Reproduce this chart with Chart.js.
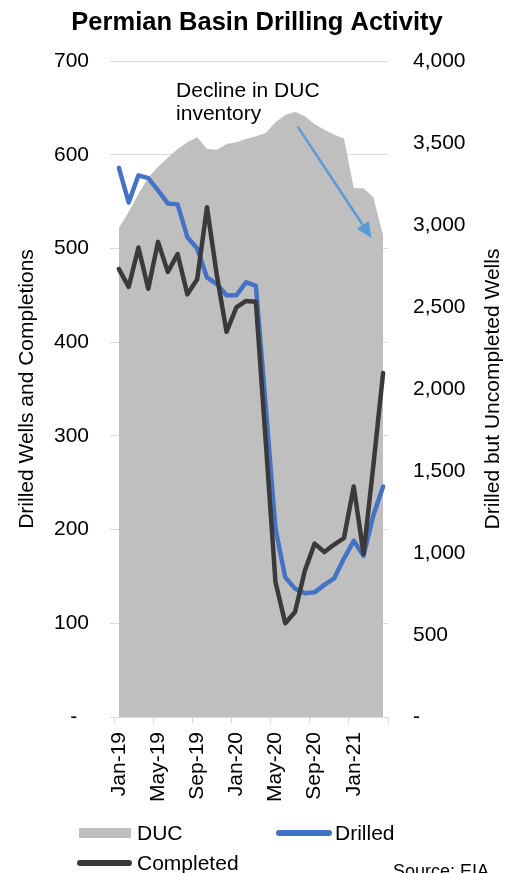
<!DOCTYPE html>
<html>
<head>
<meta charset="utf-8">
<script src="https://cdn.jsdelivr.net/npm/chart.js@4/dist/chart.umd.min.js"></script>
<style>
  html, body { margin: 0; padding: 0; background: #fff; overflow: hidden; }
  #wrap { position: relative; width: 514px; height: 873px; font-family: "Liberation Sans", Arial, sans-serif; color: #000; }
  canvas { position: absolute; left: 0; top: 0; }
  .lg { position: absolute; font-size: 21px; line-height: 21px; white-space: nowrap; }
  .sw { position: absolute; }
  .ln { position: absolute; height: 6px; border-radius: 3px; }
</style>
</head>
<body>
<div id="wrap">
  <canvas id="c" width="514" height="873"></canvas>
  <div class="sw" style="left:79px; top:828px; width:52px; height:10px; background:#BFBFBF;"></div>
  <div class="lg" style="left:137px; top:822px;">DUC</div>
  <div class="ln" style="left:276px; top:830px; width:56px; background:#4472C4;"></div>
  <div class="lg" style="left:335px; top:822px;">Drilled</div>
  <div class="ln" style="left:77px; top:860px; width:55px; background:#3A3A3A;"></div>
  <div class="lg" style="left:137px; top:852px;">Completed</div>
  <div class="lg" style="left:393px; top:862px; font-size:18px; line-height:18px;">Source: EIA</div>
</div>
<script>
// Monthly Permian figures, Jan-2019 .. Apr-2021
const months = [
  'Jan-19', 'Feb-19', 'Mar-19', 'Apr-19', 'May-19', 'Jun-19', 'Jul-19', 'Aug-19',
  'Sep-19', 'Oct-19', 'Nov-19', 'Dec-19', 'Jan-20', 'Feb-20', 'Mar-20', 'Apr-20',
  'May-20', 'Jun-20', 'Jul-20', 'Aug-20', 'Sep-20', 'Oct-20', 'Nov-20', 'Dec-20',
  'Jan-21', 'Feb-21', 'Mar-21', 'Apr-21'
];

// Drilled but uncompleted wells (right axis)
const ducWells = [
  2982, 3080, 3190, 3290, 3355, 3410, 3463, 3504,
  3535, 3463, 3459, 3494, 3504, 3524, 3541, 3561,
  3626, 3671, 3691, 3663, 3616, 3581, 3551, 3528,
  3224, 3224, 3169, 2935
];

// Wells drilled per month (left axis)
const drilledWells = [
  586, 549, 578, 575, 562, 548, 547, 512,
  500, 469, 462, 450, 450, 464, 460, 332,
  201, 149, 137, 132, 133, 141, 148, 169,
  188, 172, 215, 246
];

// Wells completed per month (left axis)
const completedWells = [
  478, 459, 501, 457, 507, 475, 494, 451,
  467, 544, 472, 411, 437, 444, 443, 295,
  144, 100, 112, 156, 185, 176, 184, 191,
  246, 174, 268, 367
];

const leftTicks = { min: 0, max: 700, step: 100 };
const rightTicks = { min: 0, max: 4000, step: 500 };

const FONT = '"Liberation Sans", Arial, sans-serif';
const GRID = '#D9D9D9';

// Callout: text anchored at (month index, DUC value), arrow between two such points
const callout = {
  lines: ['Decline in DUC', 'inventory'],
  textAt: [5.84, 3782],
  arrowFrom: [18.27, 3600],
  arrowTo: [25.83, 2919]
};

const overlay = {
  id: 'overlay',
  afterDatasetsDraw(chart) {
    const { ctx, chartArea } = chart;
    const xs = chart.scales.x, yr = chart.scales.yR;
    ctx.save();
    // callout text
    ctx.fillStyle = '#000';
    ctx.font = '21px ' + FONT;
    ctx.textAlign = 'left';
    ctx.textBaseline = 'alphabetic';
    const tx = xs.getPixelForValue(callout.textAt[0]);
    const ty = yr.getPixelForValue(callout.textAt[1]);
    callout.lines.forEach((t, i) => ctx.fillText(t, tx, ty + i * 23.3));
    // arrow
    const x0 = xs.getPixelForValue(callout.arrowFrom[0]);
    const y0 = yr.getPixelForValue(callout.arrowFrom[1]);
    const x1 = xs.getPixelForValue(callout.arrowTo[0]);
    const y1 = yr.getPixelForValue(callout.arrowTo[1]);
    const ang = Math.atan2(y1 - y0, x1 - x0);
    const headLen = 16, headW = 7;
    const bx = x1 - headLen * Math.cos(ang), by = y1 - headLen * Math.sin(ang);
    ctx.strokeStyle = '#5B9BD5';
    ctx.fillStyle = '#5B9BD5';
    ctx.lineWidth = 2.5;
    ctx.beginPath();
    ctx.moveTo(x0, y0);
    ctx.lineTo(bx, by);
    ctx.stroke();
    ctx.beginPath();
    ctx.moveTo(x1, y1);
    ctx.lineTo(bx + headW * Math.sin(ang), by - headW * Math.cos(ang));
    ctx.lineTo(bx - headW * Math.sin(ang), by + headW * Math.cos(ang));
    ctx.closePath();
    ctx.fill();
    // right axis title, reading bottom to top
    ctx.fillStyle = '#000';
    ctx.font = '21px ' + FONT;
    ctx.textAlign = 'center';
    ctx.textBaseline = 'middle';
    ctx.translate(yr.right - 21, (chartArea.top + chartArea.bottom) / 2);
    ctx.rotate(-Math.PI / 2);
    ctx.fillText('Drilled but Uncompleted Wells', 0, 0);
    ctx.restore();
  }
};

new Chart(document.getElementById('c'), {
  type: 'line',
  data: {
    labels: months,
    datasets: [
      {
        label: 'Completed',
        data: completedWells,
        yAxisID: 'yL',
        borderColor: '#3A3A3A',
        borderWidth: 4.5,
        pointRadius: 0,
        borderJoinStyle: 'round',
        borderCapStyle: 'round',
        tension: 0,
        fill: false,
        order: 1
      },
      {
        label: 'Drilled',
        data: drilledWells,
        yAxisID: 'yL',
        borderColor: '#4472C4',
        borderWidth: 4.5,
        pointRadius: 0,
        borderJoinStyle: 'round',
        borderCapStyle: 'round',
        tension: 0,
        fill: false,
        order: 2
      },
      {
        label: 'DUC',
        data: ducWells,
        yAxisID: 'yR',
        borderWidth: 0,
        borderColor: 'rgba(0,0,0,0)',
        backgroundColor: '#BFBFBF',
        pointRadius: 0,
        tension: 0,
        fill: 'origin',
        order: 3
      }
    ]
  },
  options: {
    responsive: false,
    animation: false,
    events: [],
    layout: { padding: { left: 0, right: 0, top: 0, bottom: 0 } },
    plugins: {
      legend: { display: false },
      tooltip: { enabled: false },
      title: {
        display: true,
        text: 'Permian Basin Drilling Activity',
        color: '#000',
        font: { family: FONT, size: 25.5, weight: 'bold' },
        padding: { top: 7.2, bottom: 23.2 }
      }
    },
    scales: {
      x: {
        type: 'category',
        offset: true,
        grid: {
          offset: true,
          drawOnChartArea: false,
          drawTicks: true,
          tickLength: 6,
          color: (c) => (c.type !== 'tick' || c.index % 4 === 0) ? GRID : 'rgba(0,0,0,0)'
        },
        border: { display: true, color: GRID, width: 1 },
        ticks: {
          autoSkip: false,
          minRotation: 90,
          maxRotation: 90,
          padding: 9,
          color: '#000',
          font: { family: FONT, size: 21 },
          callback: function (v, i) { return i % 4 === 0 ? this.getLabelForValue(v) : ''; }
        },
        afterFit: (s) => { s.height = 156; }
      },
      yL: {
        position: 'left',
        min: leftTicks.min,
        max: leftTicks.max,
        grid: { color: GRID, lineWidth: 1, drawTicks: true, tickLength: 4 },
        border: { display: false },
        ticks: {
          stepSize: leftTicks.step,
          padding: 21,
          color: '#000',
          font: { family: FONT, size: 21 },
          callback: (v) => v === 0 ? '-  ' : String(v)
        },
        title: {
          display: true,
          text: 'Drilled Wells and Completions',
          color: '#000',
          font: { family: FONT, size: 21 },
          padding: { top: 15, bottom: 0 }
        },
        afterFit: (s) => { s.width = 114; }
      },
      yR: {
        position: 'right',
        min: rightTicks.min,
        max: rightTicks.max,
        grid: { display: false, drawTicks: false },
        border: { display: false },
        ticks: {
          stepSize: rightTicks.step,
          padding: 25,
          color: '#000',
          font: { family: FONT, size: 21 },
          callback: (v) => v === 0 ? '-' : v.toLocaleString('en-US')
        },
        afterFit: (s) => { s.width = 126; }
      }
    }
  },
  plugins: [overlay]
});
</script>
</body>
</html>
